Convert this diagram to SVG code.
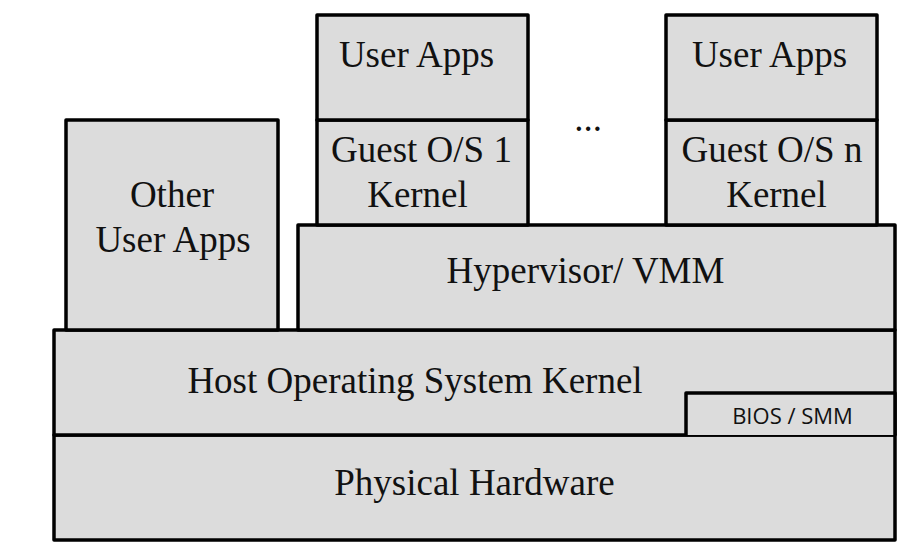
<svg xmlns="http://www.w3.org/2000/svg" width="920" height="560" viewBox="0 0 920 560">
<style>
.box{fill:#dcdcdc;stroke:#000;stroke-width:3.5;stroke-linejoin:round}
.t{font-family:"Liberation Serif","Times New Roman",serif;font-size:37px;fill:#111;text-anchor:middle}
.s{font-family:"Open Sans","DejaVu Sans",sans-serif;font-size:22px;fill:#111;text-anchor:middle}
</style>
<rect width="920" height="560" fill="#fff"/>
<g id="hardware"><rect class="box" x="54" y="435" width="841" height="105"/><text class="t" x="474.5" y="495">Physical Hardware</text></g>
<g id="hostos"><rect class="box" x="54" y="330" width="841" height="105"/><text class="t" x="415" y="393">Host Operating System Kernel</text></g>
<g id="bios"><path class="box" d="M686 435 V393 H895 V435"/><text class="s" x="792.5" y="424">BIOS / SMM</text></g>
<g id="other"><rect class="box" x="66" y="120" width="212" height="210"/><text class="t" x="172" y="207">Other</text><text class="t" x="173" y="252">User Apps</text></g>
<g id="hypervisor"><rect class="box" x="298" y="225" width="597" height="105"/><text class="t" x="585.5" y="283">Hypervisor/ VMM</text></g>
<g id="guest1"><rect class="box" x="317" y="120" width="211" height="105"/><text class="t" x="421.5" y="162">Guest O/S 1</text><text class="t" x="417.5" y="207">Kernel</text></g>
<g id="apps1"><rect class="box" x="317" y="15" width="211" height="105"/><text class="t" x="416.5" y="67">User Apps</text></g>
<g id="guestn"><rect class="box" x="666" y="120" width="211" height="105"/><text class="t" x="772" y="162">Guest O/S n</text><text class="t" x="776.5" y="207">Kernel</text></g>
<g id="appsn"><rect class="box" x="666" y="15" width="211" height="105"/><text class="t" x="769.5" y="67">User Apps</text></g>
<g id="dots"><text class="t" x="588" y="131">...</text></g>
<g id="connectors"></g>
</svg>
